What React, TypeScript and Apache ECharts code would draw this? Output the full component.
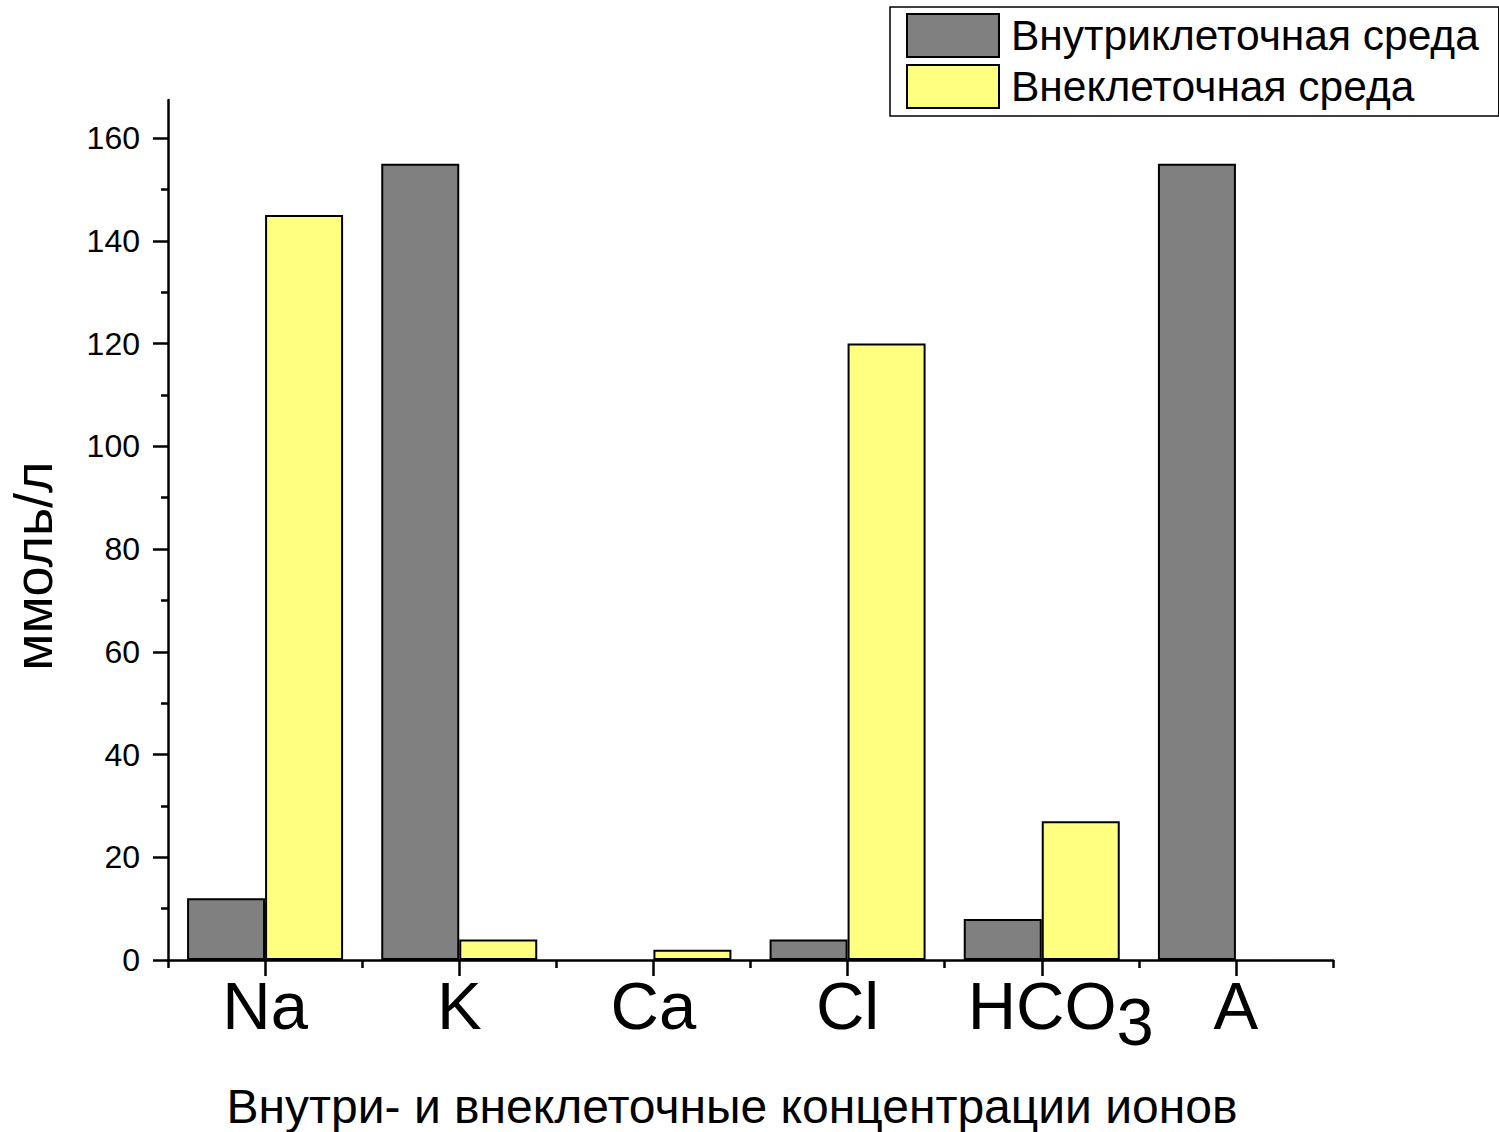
import React, { useEffect, useRef } from 'react';
import * as echarts from 'echarts';

const categories = ['Na', 'K', 'Ca', 'Cl', 'HCO3', 'A'];
const intracellular: (number | null)[] = [12, 155, null, 4, 8, 155];
const extracellular: (number | null)[] = [145, 4, 2, 120, 27, null];
const majorTicks = [0, 20, 40, 60, 80, 100, 120, 140, 160];
const minorTicks = [10, 30, 50, 70, 90, 110, 130, 150];
const seriesNames = ['Внутриклеточная среда', 'Внеклеточная среда'];
const yTitle = 'ммоль/л';
const xTitle = 'Внутри- и внеклеточные концентрации ионов';

const FONT = '"Liberation Sans", Arial, sans-serif';

export default function App() {
  const ref = useRef<HTMLDivElement>(null);
  useEffect(() => {
    if (!ref.current) return;
    const chart = echarts.init(ref.current, undefined, { renderer: 'svg' });
    const axisLineStyle = { color: '#000', width: 2.5 };
    const option: any = {
      animation: false,
      backgroundColor: '#fff',
      grid: { left: 168, right: 166, top: 100, bottom: 172, containLabel: false },
      legend: {
        orient: 'vertical',
        left: 890,
        top: 7,
        padding: [6, 20, 7, 16],
        itemWidth: 92,
        itemHeight: 43,
        itemGap: 6,
        icon: 'rect',
        borderColor: '#000',
        borderWidth: 1.5,
        textStyle: { fontSize: 42.5, lineHeight: 43, color: '#000', fontFamily: FONT, padding: [0, 0, 0, 7] },
        data: seriesNames,
      },
      xAxis: [
        {
          type: 'category',
          data: categories,
          position: 'bottom',
          axisLine: { show: true, lineStyle: axisLineStyle },
          axisTick: { show: true, alignWithLabel: true, interval: 0, length: 16, lineStyle: axisLineStyle },
          axisLabel: {
            interval: 0,
            margin: 10,
            fontSize: 67,
            lineHeight: 70,
            color: '#000',
            fontFamily: FONT,
            formatter: (v: string) => (v === 'HCO3' ? '{n|HCO}{s|3}' : v),
            rich: {
              n: { fontSize: 67, lineHeight: 70, fontFamily: FONT, color: '#000', padding: [17, 0, 16, 38] },
              s: { fontSize: 67, lineHeight: 70, fontFamily: FONT, color: '#000', padding: [33, 0, 0, 0] },
            },
          },
          splitLine: { show: false },
        },
        {
          type: 'category',
          data: categories,
          position: 'bottom',
          axisLine: { show: false },
          axisTick: { show: true, interval: 0, length: 8, lineStyle: axisLineStyle },
          axisLabel: { show: false },
          splitLine: { show: false },
        },
      ],
      yAxis: [
        {
          type: 'value',
          min: 0,
          max: 167.4,
          position: 'left',
          axisLine: { show: true, lineStyle: axisLineStyle },
          axisTick: { show: true, length: 15, customValues: majorTicks, lineStyle: axisLineStyle },
          axisLabel: { customValues: majorTicks, margin: 28, fontSize: 32, color: '#000', fontFamily: FONT },
          splitLine: { show: false },
        },
        {
          type: 'value',
          min: 0,
          max: 167.4,
          position: 'left',
          axisLine: { show: false },
          axisTick: { show: true, length: 7, customValues: minorTicks, lineStyle: axisLineStyle },
          axisLabel: { show: false },
          splitLine: { show: false },
        },
      ],
      series: [
        {
          type: 'bar',
          name: seriesNames[0],
          data: intracellular,
          xAxisIndex: 0,
          yAxisIndex: 0,
          barWidth: 78,
          barGap: '0%',
          itemStyle: { color: '#808080', borderColor: '#000', borderWidth: 2 },
        },
        {
          type: 'bar',
          name: seriesNames[1],
          data: extracellular,
          xAxisIndex: 0,
          yAxisIndex: 0,
          barWidth: 78,
          barGap: '0%',
          itemStyle: { color: '#ffff80', borderColor: '#000', borderWidth: 2 },
        },
      ],
      graphic: [
        {
          type: 'text',
          x: 732,
          y: 1106,
          style: { text: xTitle, fontSize: 48, fontFamily: FONT, fill: '#000', align: 'center', verticalAlign: 'middle' },
        },
        {
          type: 'text',
          x: 33,
          y: 566,
          rotation: Math.PI / 2,
          style: { text: yTitle, fontSize: 54, fontFamily: FONT, fill: '#000', align: 'center', verticalAlign: 'middle' },
        },
      ],
    };
    chart.setOption(option);
    return () => chart.dispose();
  }, []);
  return (
    <div
      ref={ref}
      style={{ position: 'absolute', left: 0, top: 0, width: 1499, height: 1132, background: '#fff' }}
    />
  );
}
